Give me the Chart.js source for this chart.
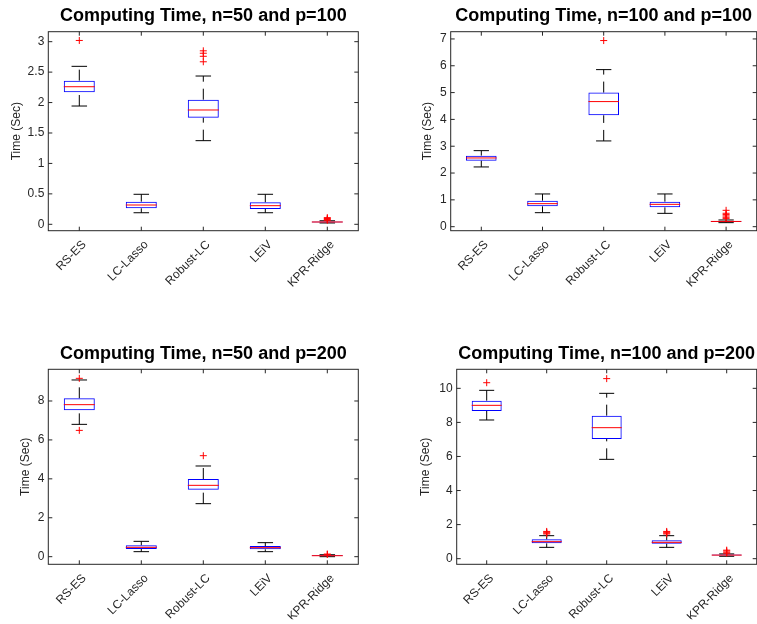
<!DOCTYPE html>
<html><head><meta charset="utf-8">
<script src="https://cdn.jsdelivr.net/npm/chart.js@4/dist/chart.umd.min.js"></script>
<style>
html,body{margin:0;padding:0;background:#fff;}
body{width:757px;height:624px;position:relative;overflow:hidden;}
canvas{position:absolute;}
</style></head><body>
<canvas id="c1" width="400" height="330" style="left:0px;top:0px"></canvas>
<canvas id="c2" width="362" height="330" style="left:400px;top:0px"></canvas>
<canvas id="c3" width="400" height="294" style="left:0px;top:330px"></canvas>
<canvas id="c4" width="362" height="294" style="left:400px;top:330px"></canvas>
<script>
// ---------------- DATA ----------------
const categories = ['RS-ES', 'LC-Lasso', 'Robust-LC', 'LEiV', 'KPR-Ridge'];
const yLabel = 'Time (Sec)';

// Panel 1: n=50, p=100
const title1 = 'Computing Time, n=50 and p=100';
const q1_1  = [2.17, 0.263, 1.752, 0.252, 0.030];
const med_1 = [2.26, 0.317, 1.878, 0.306, 0.038];
const q3_1  = [2.36, 0.372, 2.047, 0.361, 0.046];
const lo_1  = [1.943, 0.19, 1.374, 0.19, 0.022];
const hi_1  = [2.595, 0.493, 2.436, 0.493, 0.058];
const out_1 = [[3.02], [], [2.67, 2.76, 2.81, 2.85], [], [0.065, 0.08, 0.095, 0.11]];
const ticks_1 = [0, 0.5, 1, 1.5, 2, 2.5, 3];
const range_1 = [-0.105, 3.164];

// Panel 2: n=100, p=100
const title2 = 'Computing Time, n=100 and p=100';
const q1_2  = [2.462, 0.759, 4.154, 0.721, 0.175];
const med_2 = [2.562, 0.858, 4.664, 0.833, 0.195];
const q3_2  = [2.649, 0.97, 5.0, 0.933, 0.215];
const lo_2  = [2.227, 0.522, 3.197, 0.497, 0.15];
const hi_2  = [2.835, 1.22, 5.856, 1.22, 0.25];
const out_2 = [[], [], [6.94], [], [0.3, 0.35, 0.4, 0.45, 0.5, 0.61]];
const ticks_2 = [0, 1, 2, 3, 4, 5, 6, 7];
const range_2 = [-0.15, 7.27];

// Panel 3: n=50, p=200
const title3 = 'Computing Time, n=50 and p=200';
const q1_3  = [7.52, 0.394, 3.443, 0.377, 0.03];
const med_3 = [7.812, 0.48, 3.666, 0.463, 0.05];
const q3_3  = [8.137, 0.582, 3.99, 0.548, 0.07];
const lo_3  = [6.80, 0.257, 2.724, 0.257, 0.0];
const hi_3  = [9.08, 0.788, 4.66, 0.72, 0.1];
const out_3 = [[6.49, 9.165], [], [5.19], [], [0.12, 0.13]];
const ticks_3 = [0, 2, 4, 6, 8];
const range_3 = [-0.392, 9.629];

// Panel 4: n=100, p=200
const title4 = 'Computing Time, n=100 and p=200';
const q1_4  = [8.67, 0.9, 7.026, 0.88, 0.19];
const med_4 = [9.002, 0.998, 7.69, 0.959, 0.21];
const q3_4  = [9.276, 1.135, 8.395, 1.076, 0.24];
const lo_4  = [8.141, 0.665, 5.832, 0.665, 0.14];
const hi_4  = [9.882, 1.35, 9.706, 1.35, 0.28];
const out_4 = [[10.33], [1.45, 1.5, 1.55, 1.6], [10.57], [1.45, 1.5, 1.55, 1.6], [0.32, 0.38, 0.45, 0.5]];
const ticks_4 = [0, 2, 4, 6, 8, 10];
const range_4 = [-0.33, 11.117];

// ---------------- STYLE / LAYOUT ----------------
const FONT = "'Liberation Sans', Arial, Helvetica, sans-serif";
const AXIS_COLOR = '#262626';
const layouts = [
  {id:'c1', yw:48.3, padR:41.7, tTop:5.5, tBot:4.6, xh:70, padB:29.3, yTitlePad:9.5},
  {id:'c2', yw:50.7, padR:5.3,  tTop:5.5, tBot:4.6, xh:70, padB:29.3, yTitlePad:20.5},
  {id:'c3', yw:48.3, padR:41.7, tTop:13.7, tBot:4.0, xh:55, padB:4.7, yTitlePad:18.1},
  {id:'c4', yw:56.7, padR:5.3,  tTop:13.7, tBot:4.0, xh:55, padB:4.7, yTitlePad:18.8}
];
const panels = [
  {title:title1, q1:q1_1, med:med_1, q3:q3_1, lo:lo_1, hi:hi_1, out:out_1, ticks:ticks_1, range:range_1},
  {title:title2, q1:q1_2, med:med_2, q3:q3_2, lo:lo_2, hi:hi_2, out:out_2, ticks:ticks_2, range:range_2},
  {title:title3, q1:q1_3, med:med_3, q3:q3_3, lo:lo_3, hi:hi_3, out:out_3, ticks:ticks_3, range:range_3},
  {title:title4, q1:q1_4, med:med_4, q3:q3_4, lo:lo_4, hi:hi_4, out:out_4, ticks:ticks_4, range:range_4}
];

function makeBoxPlugin(p) {
  function geom(chart) {
    const x = chart.scales.x, y = chart.scales.y;
    const step = x.getPixelForValue(1) - x.getPixelForValue(0);
    return {x, y, step};
  }
  return {
    id: 'boxdraw',
    beforeDatasetsDraw(chart) {
      const {x, y, step} = geom(chart);
      const ctx = chart.ctx;
      ctx.save();
      ctx.strokeStyle = '#000000';
      ctx.lineWidth = 1;
      categories.forEach((c, i) => {
        const px = x.getPixelForValue(i);
        // whiskers (dashed), drawn from the lower value upward
        ctx.setLineDash([11, 7]);
        ctx.beginPath();
        ctx.moveTo(px, y.getPixelForValue(p.q3[i]));
        ctx.lineTo(px, y.getPixelForValue(p.hi[i]));
        ctx.stroke();
        ctx.beginPath();
        ctx.moveTo(px, y.getPixelForValue(p.lo[i]));
        ctx.lineTo(px, y.getPixelForValue(p.q1[i]));
        ctx.stroke();
        // caps
        ctx.setLineDash([]);
        const cw = step * 0.125;
        [p.hi[i], p.lo[i]].forEach(v => {
          const py = y.getPixelForValue(v);
          ctx.beginPath();
          ctx.moveTo(px - cw, py);
          ctx.lineTo(px + cw, py);
          ctx.stroke();
        });
      });
      ctx.restore();
    },
    afterDatasetDraw(chart, args) {
      if (args.index !== 1) return;
      const {x, y, step} = geom(chart);
      const ctx = chart.ctx;
      ctx.save();
      ctx.strokeStyle = '#ff0000';
      ctx.lineWidth = 1;
      categories.forEach((c, i) => {
        const px = x.getPixelForValue(i);
        const py = y.getPixelForValue(p.med[i]);
        const hw = step * 0.25;
        ctx.beginPath();
        ctx.moveTo(px - hw, py);
        ctx.lineTo(px + hw, py);
        ctx.stroke();
      });
      ctx.restore();
    },
    afterDraw(chart) {
      const {x, y} = geom(chart);
      const ctx = chart.ctx;
      const a = chart.chartArea;
      ctx.save();
      ctx.strokeStyle = AXIS_COLOR;
      ctx.lineWidth = 1;
      ctx.strokeRect(a.left, a.top, a.right - a.left, a.bottom - a.top);
      const tl = 4;
      ctx.beginPath();
      p.ticks.forEach(v => {
        const py = y.getPixelForValue(v);
        ctx.moveTo(a.left, py); ctx.lineTo(a.left + tl, py);
        ctx.moveTo(a.right, py); ctx.lineTo(a.right - tl, py);
      });
      categories.forEach((c, i) => {
        const px = x.getPixelForValue(i);
        ctx.moveTo(px, a.bottom); ctx.lineTo(px, a.bottom - tl);
        ctx.moveTo(px, a.top); ctx.lineTo(px, a.top + tl);
      });
      ctx.stroke();
      ctx.restore();
    }
  };
}

panels.forEach((p, k) => {
  const L = layouts[k];
  const outliers = p.out.flatMap((arr, i) => arr.map(v => ({x: categories[i], y: v})));
  new Chart(document.getElementById(L.id), {
    type: 'bar',
    data: {
      labels: categories,
      datasets: [
        {
          type: 'scatter',
          data: outliers,
          pointStyle: 'cross',
          pointRadius: 3.5,
          pointBorderColor: '#ff0000',
          pointBackgroundColor: '#ff0000',
          pointBorderWidth: 1,
          borderColor: '#ff0000'
        },
        {
          type: 'bar',
          data: categories.map((c, i) => [p.q1[i], p.q3[i]]),
          backgroundColor: 'rgba(255,255,255,0)',
          borderColor: '#0000ff',
          borderWidth: 1,
          borderSkipped: false,
          barPercentage: 0.5,
          categoryPercentage: 1.0
        }
      ]
    },
    options: {
      responsive: false,
      animation: false,
      events: [],
      layout: {padding: {left: 0, right: L.padR, top: 0, bottom: L.padB}},
      plugins: {
        legend: {display: false},
        tooltip: {enabled: false},
        title: {
          display: true, text: p.title, fullSize: false, color: '#000000',
          font: {family: FONT, size: 18, weight: 'bold', lineHeight: 1.2},
          padding: {top: L.tTop, bottom: L.tBot}
        }
      },
      scales: {
        x: {
          type: 'category',
          offset: true,
          grid: {display: false, drawTicks: false},
          border: {display: false},
          ticks: {font: {family: FONT, size: 12}, color: AXIS_COLOR, minRotation: 45, maxRotation: 45, padding: 7, labelOffset: 5, autoSkip: false},
          afterFit(s) { s.height = L.xh; }
        },
        y: {
          type: 'linear',
          min: p.range[0], max: p.range[1],
          grid: {display: false, drawTicks: false},
          border: {display: false},
          ticks: {font: {family: FONT, size: 12}, color: AXIS_COLOR, padding: 4, callback: v => String(v)},
          afterBuildTicks(s) { s.ticks = p.ticks.map(v => ({value: v})); },
          afterFit(s) { s.width = L.yw; },
          title: {display: true, text: yLabel, color: AXIS_COLOR, font: {family: FONT, size: 12}, padding: {top: L.yTitlePad, bottom: 0}}
        }
      }
    },
    plugins: [makeBoxPlugin(p)]
  });
});
</script>
</body></html>
